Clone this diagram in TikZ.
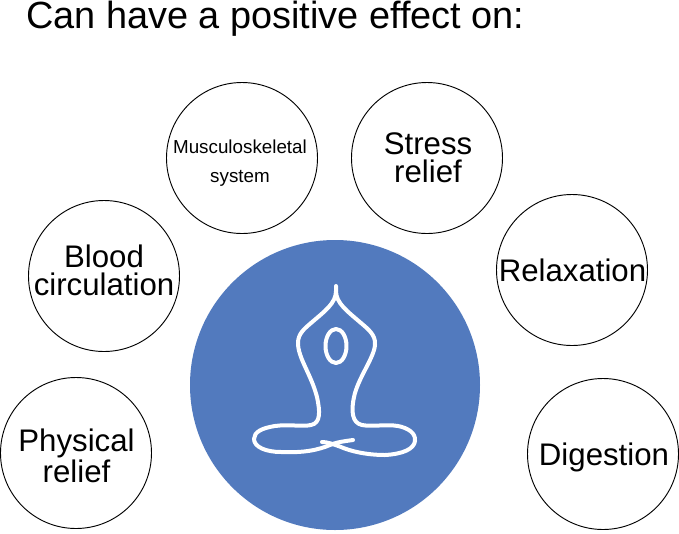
\documentclass[tikz,border=0pt]{standalone}
\usepackage{fontspec}
\setmainfont{Liberation Sans}
\newdimen\ux \ux=0.75pt
\tikzset{bub/.style={circle,draw=black,line width=0.7pt,minimum size=151\ux,inner sep=0pt},
lab/.style={inner sep=0pt,align=center,font=\fontsize{23.4}{21.3}\selectfont},
smalllab/.style={inner sep=0pt,align=center,font=\fontsize{14.1}{21.7}\selectfont},
figline/.style={white,line width=3pt,line cap=round,line join=round}}
\begin{document}
\begin{tikzpicture}[x=0.75pt,y=-0.75pt]
\useasboundingbox (0,0) rectangle (679,533);
\fill[white] (0,0) rectangle (679,533);
\node[anchor=west,inner sep=0pt,font=\fontsize{28.4}{30}\selectfont] (title) at (26,18.5) {Can have a positive effect on:};
\node[circle,fill={rgb,255:red,82;green,122;blue,190},minimum size=217.5pt,inner sep=0pt] (hub) at (335,385) {};
\node[bub] (musc) at (242,158) {};
\node[bub] (stress) at (427,158) {};
\node[bub] (blood) at (104,276) {};
\node[bub] (relax) at (572,270) {};
\node[bub] (phys) at (76,453) {};
\node[bub] (dig) at (603,454) {};
\node[smalllab] (tmusc) at (240,163) {Musculoskeletal\\system};
\node[lab] (tstress) at (428,158) {Stress\\relief};
\node[lab] (tblood) at (104,270.5) {Blood\\circulation};
\node[lab] (trelax) at (572.5,270) {Relaxation};
\node[lab] (tphys) at (76.5,456) {Physical\\relief};
\node[lab] (tdig) at (604,457) {Digestion};
% figure
\draw[figline]
 (336,286) -- (336,291)
 .. controls (336,303) and (325,311) .. (311,323)
 .. controls (304,329) and (298,334) .. (298,343)
 .. controls (298,358) and (311,374) .. (317,397)
 .. controls (320,411) and (321,423) .. (311,425)
 .. controls (302,427) and (289,424) .. (275,426)
 .. controls (262,428) and (254,432) .. (254,439)
 .. controls (254,447) and (266,452) .. (281,452)
 .. controls (304,453) and (318,450) .. (330,445)
 .. controls (337,442) and (346,441) .. (353,440);
\draw[figline]
 (336,291)
 .. controls (336,303) and (347,311) .. (361,323)
 .. controls (368,329) and (376,335) .. (375,345)
 .. controls (374,358) and (358,378) .. (354,397)
 .. controls (351,411) and (352,423) .. (362,425)
 .. controls (372,427) and (386,424) .. (398,426)
 .. controls (408,428) and (416,433) .. (415,441)
 .. controls (414,449) and (403,454) .. (385,455)
 .. controls (366,455) and (350,451) .. (341,447)
 .. controls (333,444) and (327,442) .. (322,442);
\draw[figline] (336,346) ellipse (10.5 and 17);
\end{tikzpicture}
\end{document}
